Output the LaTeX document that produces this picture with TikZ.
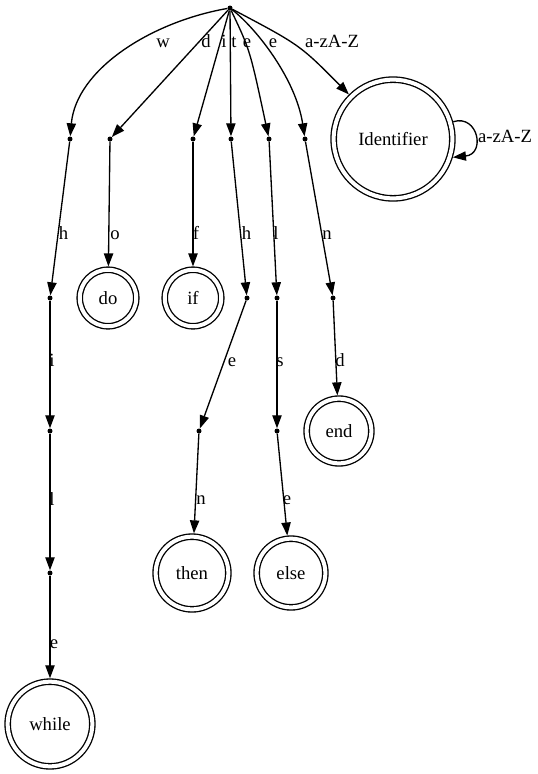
\documentclass[tikz,border=0pt]{standalone}
\usepackage{fontspec}
\setmainfont{Liberation Serif}
\usetikzlibrary{arrows.meta}
\begin{document}
\begin{tikzpicture}[x=1pt,y=-1pt,
  every node/.style={font=\fontsize{18.67}{22}\selectfont},
  jn/.style={circle, fill=black, inner sep=0pt, minimum size=5pt},
  acc/.style={circle, draw, double, double distance=4pt, line width=1.33pt,
              inner sep=0pt, outer sep=3.33pt, minimum size=#1},
  arr/.style={line width=1.33pt, -{Triangle[length=13pt,width=9.3pt]}},
  lbl/.style={inner sep=0pt, text height=0.68em, text depth=0.22em}
]
\useasboundingbox (0,0) rectangle (538,774);

% states
\node[jn] (s)  at (230,8) {};
\node[jn] (w1) at (70,139) {};
\node[jn] (d1) at (110,139) {};
\node[jn] (i1) at (193,139) {};
\node[jn] (t1) at (231,139) {};
\node[jn] (l1) at (269,139) {};
\node[jn] (n1) at (305,139) {};
\node[acc=118.7] (qid) at (393,139) {Identifier};

\node[jn] (w2) at (50,298) {};
\node[acc=56.5] (qdo) at (108,298) {do};
\node[acc=56.5] (qif) at (193,298) {if};
\node[jn] (t2) at (247,298) {};
\node[jn] (l2) at (277,298) {};
\node[jn] (n2) at (333,298) {};

\node[jn] (w3) at (50,431) {};
\node[jn] (t3) at (199,431) {};
\node[jn] (l3) at (277,431) {};
\node[acc=64.7] (qend) at (339,431) {end};

\node[jn] (w4) at (50,573) {};
\node[acc=72.7] (qthen) at (192,573) {then};
\node[acc=68.7] (qelse) at (291,573) {else};

\node[acc=84.7] (qwhile) at (50,724) {while};

% transitions out of the start state
\draw[arr] (s) .. controls (150,22) and (76,70) .. (w1);
\draw[arr] (s) -- (d1);
\draw[arr] (s) -- (i1);
\draw[arr] (s) -- (t1);
\draw[arr] (s) .. controls (250,50) .. (l1);
\draw[arr] (s) .. controls (258,30) and (296,80) .. (n1);
\draw[arr] (s) .. controls (300,45) .. (qid);
\draw[arr] (qid.16) .. controls (478,114) and (486,154) .. (qid.-17);

% keyword chains
\draw[arr] (w1) -- (w2);
\draw[arr] (w2) -- (w3);
\draw[arr] (w3) -- (w4);
\draw[arr] (w4) -- (qwhile);
\draw[arr] (d1) -- (qdo);
\draw[arr] (i1) -- (qif);
\draw[arr] (t1) -- (t2);
\draw[arr] (t2) -- (t3);
\draw[arr] (t3) -- (qthen);
\draw[arr] (l1) -- (l2);
\draw[arr] (l2) -- (l3);
\draw[arr] (l3) -- (qelse);
\draw[arr] (n1) -- (n2);
\draw[arr] (n2) -- (qend);

% transition labels
\node[lbl] (a1) at (163,45) {w};
\node[lbl] (a2) at (206,45) {d};
\node[lbl] (a3) at (224,45) {i};
\node[lbl] (a4) at (234,45) {t};
\node[lbl] (a5) at (247,45) {e};
\node[lbl] (a6) at (273,45) {e};
\node[lbl] (a7) at (332,45) {a-zA-Z};
\node[lbl] (a8) at (505,140) {a-zA-Z};

\node[lbl] (b1) at (63.5,237) {h};
\node[lbl] (b2) at (115,237) {o};
\node[lbl] (b3) at (196,237) {f};
\node[lbl] (b4) at (246.5,237) {h};
\node[lbl] (b5) at (276,237) {l};
\node[lbl] (b6) at (327,237) {n};

\node[lbl] (c1) at (52,364) {i};
\node[lbl] (c2) at (232,364) {e};
\node[lbl] (c3) at (280,364) {s};
\node[lbl] (c4) at (340,364) {d};

\node[lbl] (e1) at (52,503) {l};
\node[lbl] (e2) at (201,502) {n};
\node[lbl] (e3) at (287,502) {e};

\node[lbl] (f1) at (54,646) {e};
\end{tikzpicture}
\end{document}
